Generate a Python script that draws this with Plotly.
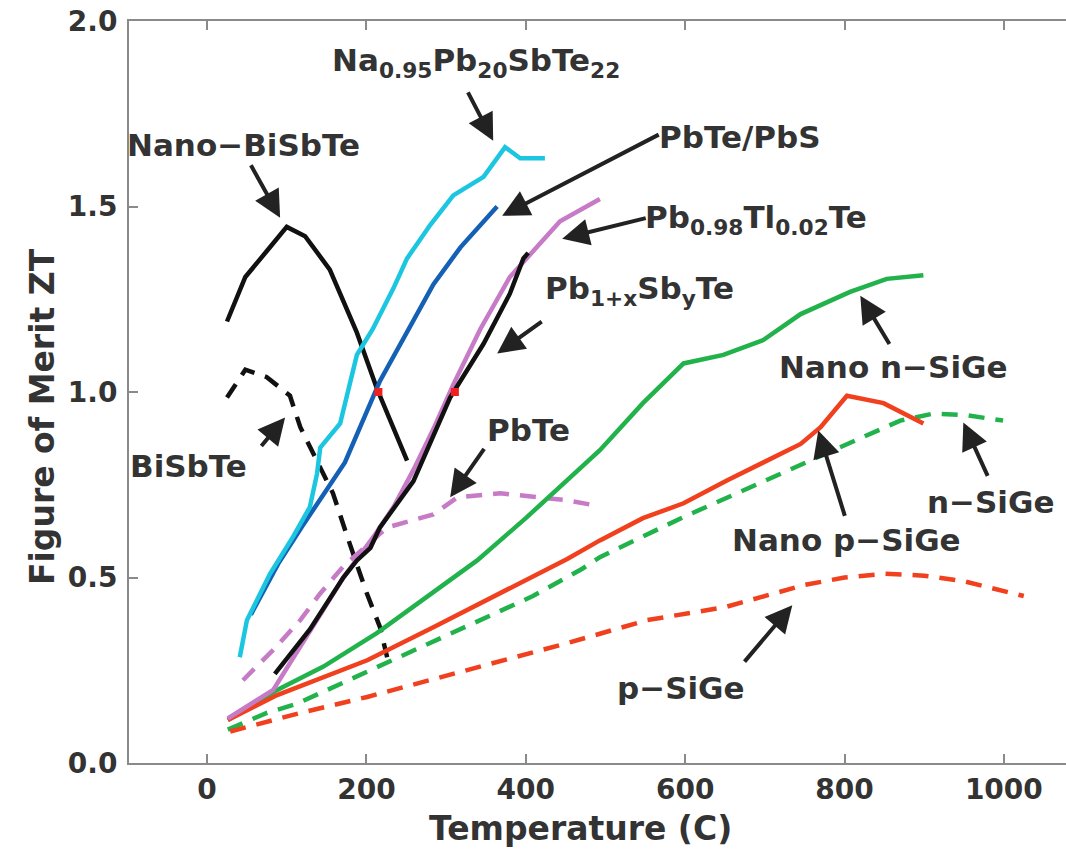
import plotly.graph_objects as go

# ---------------- data (Temperature in C, ZT) ----------------
nano_bisbte_x = [25, 48, 75, 100, 123, 154, 188, 213, 251]
nano_bisbte_y = [1.19, 1.31, 1.38, 1.445, 1.42, 1.33, 1.16, 1.01, 0.815]

bisbte_x = [25, 48, 75, 104, 117, 138, 158, 176, 200, 217, 226]
bisbte_y = [0.985, 1.06, 1.04, 0.99, 0.905, 0.815, 0.727, 0.61, 0.46, 0.366, 0.285]

na_x = [41, 50, 79, 108, 129, 138, 142, 167, 188, 208, 234, 251, 280, 309, 347, 364, 374, 393, 424]
na_y = [0.285, 0.385, 0.51, 0.61, 0.69, 0.78, 0.85, 0.915, 1.10, 1.17, 1.28, 1.36, 1.45, 1.53, 1.58, 1.63, 1.66, 1.63, 1.63]

pbtepbs_x = [55, 90, 120, 150, 173, 217, 284, 318, 364]
pbtepbs_y = [0.40, 0.54, 0.64, 0.735, 0.81, 1.03, 1.29, 1.39, 1.50]

pbtl_x = [26, 83, 129, 171, 209, 234, 259, 284, 309, 343, 380, 443, 493]
pbtl_y = [0.12, 0.197, 0.355, 0.50, 0.61, 0.69, 0.79, 0.90, 1.02, 1.17, 1.31, 1.46, 1.52]

pbsb_x = [85, 129, 171, 188, 205, 217, 259, 305, 347, 380, 397, 403]
pbsb_y = [0.24, 0.36, 0.50, 0.546, 0.58, 0.635, 0.76, 0.985, 1.13, 1.265, 1.36, 1.375]

pbte_x = [45, 83, 117, 142, 171, 226, 284, 314, 368, 452, 485]
pbte_y = [0.223, 0.305, 0.385, 0.457, 0.53, 0.635, 0.67, 0.716, 0.727, 0.708, 0.695]

nano_n_x = [26, 88, 146, 213, 339, 400, 493, 547, 598, 648, 698, 745, 807, 853, 899]
nano_n_y = [0.116, 0.197, 0.26, 0.35, 0.546, 0.66, 0.843, 0.97, 1.077, 1.10, 1.14, 1.21, 1.27, 1.305, 1.315]

nano_p_x = [26, 88, 201, 284, 452, 493, 547, 598, 653, 694, 745, 770, 803, 849, 899]
nano_p_y = [0.116, 0.183, 0.277, 0.366, 0.55, 0.60, 0.66, 0.70, 0.762, 0.807, 0.86, 0.905, 0.99, 0.97, 0.915]

n_x = [26, 75, 113, 242, 409, 472, 493, 598, 703, 786, 870, 912, 954, 999]
n_y = [0.09, 0.135, 0.16, 0.285, 0.45, 0.525, 0.555, 0.663, 0.762, 0.843, 0.923, 0.942, 0.937, 0.923]

p_x = [29, 117, 201, 326, 452, 552, 650, 750, 800, 850, 900, 950, 1000, 1025]
p_y = [0.085, 0.135, 0.178, 0.25, 0.323, 0.385, 0.42, 0.48, 0.50, 0.51, 0.505, 0.49, 0.465, 0.45]

cross_x = [215, 311]
cross_y = [1.0, 1.0]

x_ticks = [0, 200, 400, 600, 800, 1000]
y_ticks = [0.0, 0.5, 1.0, 1.5, 2.0]
y_tick_labels = ["0.0", "0.5", "1.0", "1.5", "2.0"]

# ---------------- figure ----------------
DASH = "16px,11px"
series = [
    (nano_bisbte_x, nano_bisbte_y, "#111111", "solid"),
    (bisbte_x, bisbte_y, "#111111", DASH),
    (pbte_x, pbte_y, "#c77ac6", DASH),
    (n_x, n_y, "#22b24c", DASH),
    (p_x, p_y, "#f0401e", DASH),
    (nano_n_x, nano_n_y, "#22b24c", "solid"),
    (nano_p_x, nano_p_y, "#f0401e", "solid"),
    (pbtl_x, pbtl_y, "#c77ac6", "solid"),
    (pbsb_x, pbsb_y, "#111111", "solid"),
    (pbtepbs_x, pbtepbs_y, "#1460b4", "solid"),
    (na_x, na_y, "#1cc6e0", "solid"),
]

fig = go.Figure()
for xs, ys, col, dash in series:
    fig.add_trace(go.Scatter(x=xs, y=ys, mode="lines",
                             line=dict(color=col, width=4.5, dash=dash),
                             showlegend=False, hoverinfo="skip"))
fig.add_trace(go.Scatter(x=cross_x, y=cross_y, mode="markers",
                         marker=dict(color="#f02020", size=8, symbol="square"),
                         showlegend=False, hoverinfo="skip"))

FONT = "DejaVu Sans"
TXT = "#333333"
L, T, W, H = 129, 21, 937, 742

def px2x(px):
    return (px - 207) / 0.7965

def px2y(py):
    return (763 - py) / 371.5

def px2paper(px, py):
    return (px - L) / W, (T + H - py) / H

labels = [
    ("Na<sub>0.95</sub>Pb<sub>20</sub>SbTe<sub>22</sub>", 335, 62),
    ("PbTe/PbS", 662, 137),
    ("Nano\u2212BiSbTe", 130, 145),
    ("Pb<sub>0.98</sub>Tl<sub>0.02</sub>Te", 648, 220),
    ("Pb<sub>1+x</sub>Sb<sub>y</sub>Te", 548, 290),
    ("BiSbTe", 133, 466),
    ("PbTe", 490, 430),
    ("Nano n\u2212SiGe", 782, 367),
    ("Nano p\u2212SiGe", 735, 540),
    ("n\u2212SiGe", 930, 502),
    ("p\u2212SiGe", 620, 688),
]
for t, lx, cy in labels:
    xp, yp = px2paper(lx - 4, cy)
    fig.add_annotation(x=xp, y=yp, xref="paper", yref="paper", text="<b>%s</b>" % t,
                       showarrow=False, xanchor="left", yanchor="middle", borderpad=0,
                       font=dict(family=FONT, size=31, color=TXT))

arrows = [
    ((467, 90), (493, 140)),
    ((660, 133), (502, 215)),
    ((250, 163), (280, 217)),
    ((647, 217), (562, 238)),
    ((543, 320), (497, 353)),
    ((260, 447), (285, 417)),
    ((485, 447), (450, 497)),
    ((890, 345), (860, 295)),
    ((845, 517), (818, 430)),
    ((988, 477), (963, 422)),
    ((743, 663), (792, 605)),
]
for (tx, ty), (hx, hy) in arrows:
    fig.add_annotation(x=px2x(hx), y=px2y(hy), ax=px2x(tx), ay=px2y(ty),
                       xref="x", yref="y", axref="x", ayref="y", text="",
                       showarrow=True, arrowhead=2, arrowsize=1.35, arrowwidth=4,
                       arrowcolor="#222222", standoff=0, startstandoff=0)

# axis titles
xp, yp = px2paper(580, 828)
fig.add_annotation(x=xp, y=yp, xref="paper", yref="paper",
                   text="<b>Temperature (C)</b>", showarrow=False, xanchor="center", yanchor="middle",
                   font=dict(family=FONT, size=33, color=TXT))
xp, yp = px2paper(42, 417)
fig.add_annotation(x=xp, y=yp, xref="paper", yref="paper",
                   text="<b>Figure of Merit ZT</b>", showarrow=False, textangle=-90,
                   xanchor="center", yanchor="middle",
                   font=dict(family=FONT, size=33, color=TXT))

axis_common = dict(showgrid=False, zeroline=False, showline=True, linecolor="#8a8a8a",
                   linewidth=2, ticks="inside", ticklen=9, tickwidth=2, tickcolor="#8a8a8a",
                   automargin=False,
                   tickfont=dict(family=FONT, size=28, color=TXT, weight="bold"))

fig.update_xaxes(range=[-98, 1078], tickvals=x_ticks, mirror="ticks", **axis_common)
fig.update_yaxes(range=[0, 2], tickvals=y_ticks, ticktext=y_tick_labels, mirror=False,
                 ticklabelstandoff=4, **axis_common)

fig.update_layout(width=1066, height=849,
                  margin=dict(l=L, r=0, t=T, b=849 - T - H, autoexpand=False),
                  paper_bgcolor="white", plot_bgcolor="white")

fig.write_html("out.html", config={"displayModeBar": False},
               post_script="document.body.style.margin='0';document.body.style.overflow='hidden';")
